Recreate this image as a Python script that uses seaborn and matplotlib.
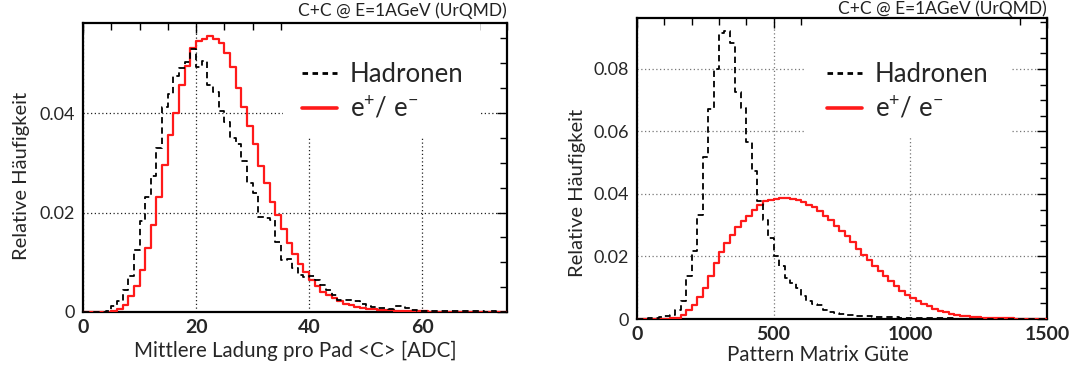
import numpy as np
import pandas as pd
import matplotlib
matplotlib.use("Agg")
import matplotlib.pyplot as plt
import seaborn as sns
from matplotlib.ticker import MultipleLocator, FuncFormatter
from matplotlib.lines import Line2D
from matplotlib.patches import Rectangle

# ---------------- data ----------------
title_text = "C+C @ E=1AGeV (UrQMD)"
legend_labels = ["Hadronen", "e$^{+}$/ e$^{-}$"]

# left panel: mean charge per pad, bins of 1 ADC from 0 to 75
charge_bin_width = 1.0
charge_n_bins = 75
charge_hadrons = [
    0, 0, 0, 0, 0.0002,
    0.0012, 0.0023, 0.0045, 0.0072, 0.0125,
    0.0182, 0.0232, 0.0274, 0.0330, 0.0412,
    0.0439, 0.0474, 0.0491, 0.0503, 0.0529,
    0.0493, 0.0504, 0.0457, 0.0443, 0.0405,
    0.0381, 0.0350, 0.0338, 0.0303, 0.0260,
    0.0240, 0.0191, 0.0188, 0.0184, 0.0140,
    0.0105, 0.0106, 0.0089, 0.0074, 0.0071,
    0.0072, 0.0064, 0.0054, 0.0044, 0.0034,
    0.0025, 0.0025, 0.0024, 0.0023, 0.0016,
    0.0012, 0.0011, 0.0009, 0.0009, 0.0007,
    0.0012, 0.0013, 0.0008, 0.0004, 0.0003,
    0.0003, 0.0003, 0.0003, 0.0002, 0.0002,
    0.0003, 0.0002, 0.0002, 0.0002, 0.0002,
    0.0002, 0.0001, 0.0002, 0.0001, 0.0001,
]
charge_electrons = [
    0, 0, 0, 0, 0.0001,
    0.0002, 0.0006, 0.0015, 0.0032, 0.0053,
    0.0084, 0.0128, 0.0175, 0.0232, 0.0296,
    0.0356, 0.0400, 0.0457, 0.0495, 0.0531,
    0.0545, 0.0549, 0.0555, 0.0549, 0.0541,
    0.0520, 0.0492, 0.0450, 0.0412, 0.0373,
    0.0338, 0.0294, 0.0259, 0.0222, 0.0195,
    0.0166, 0.0138, 0.0117, 0.0097, 0.0080,
    0.0064, 0.0052, 0.0041, 0.0034, 0.0028,
    0.0022, 0.0017, 0.0014, 0.0011, 0.0009,
    0.0007, 0.0006, 0.0005, 0.0004, 0.0004,
    0.0003, 0.0003, 0.0002, 0.0002, 0.0002,
    0.0002, 0.0001, 0.0001, 0.0001, 0.0001,
    0.0001, 0.0001, 0.0001, 0.0001, 0.0001,
    0.0001, 0.0001, 0.0001, 0.0001, 0.0001,
]

# right panel: pattern matrix quality, bins of 20 from 0 to 1500
pm_bin_width = 20.0
pm_n_bins = 75
pm_hadrons = [
    0, 0, 0.0002, 0.0003, 0.0005,
    0.0008, 0.0013, 0.0029, 0.0058, 0.0137,
    0.0216, 0.0334, 0.0517, 0.0672, 0.0800,
    0.0914, 0.0920, 0.0882, 0.0726, 0.0674,
    0.0566, 0.0472, 0.0378, 0.0318, 0.0259,
    0.0200, 0.0168, 0.0130, 0.0115, 0.0099,
    0.0074, 0.0058, 0.0048, 0.0045, 0.0029,
    0.0023, 0.0019, 0.0017, 0.0014, 0.0012,
    0.0011, 0.0009, 0.0008, 0.0007, 0.0007,
    0.0006, 0.0005, 0.0005, 0.0004, 0.0004,
    0.0003, 0.0003, 0.0003, 0.0002, 0.0002,
    0.0002, 0.0002, 0.0002, 0.0001, 0.0001,
    0.0001, 0.0001, 0.0001, 0.0001, 0.0001,
    0.0001, 0.0001, 0.0001, 0.0001, 0.0001,
    0.0001, 0.0001, 0.0001, 0.0001, 0.0001,
]
pm_electrons = [
    0, 0, 0, 0, 0,
    0.0001, 0.0002, 0.0004, 0.0013, 0.0028,
    0.0044, 0.0069, 0.0098, 0.0138, 0.0179,
    0.0214, 0.0243, 0.0270, 0.0294, 0.0312,
    0.0330, 0.0349, 0.0365, 0.0376, 0.0381,
    0.0385, 0.0386, 0.0386, 0.0385, 0.0381,
    0.0373, 0.0365, 0.0358, 0.0346, 0.0330,
    0.0318, 0.0298, 0.0280, 0.0264, 0.0245,
    0.0225, 0.0206, 0.0188, 0.0170, 0.0152,
    0.0136, 0.0120, 0.0104, 0.0091, 0.0078,
    0.0067, 0.0056, 0.0048, 0.0040, 0.0033,
    0.0027, 0.0021, 0.0017, 0.0014, 0.0011,
    0.0009, 0.0006, 0.0005, 0.0004, 0.0003,
    0.0002, 0.0002, 0.0002, 0.0002, 0.0001,
    0.0001, 0.0001, 0.0001, 0.0001, 0.0001,
]

left_xlabel = "Mittlere Ladung pro Pad <C> [ADC]"
right_xlabel = "Pattern Matrix Güte"
ylabel = "Relative Häufigkeit"

# ---------------- style ----------------
sns.set_style("white")
plt.rcParams["font.family"] = ["Lato", "DejaVu Sans"]
plt.rcParams["mathtext.fontset"] = "custom"
plt.rcParams["mathtext.rm"] = "Lato"
plt.rcParams["mathtext.it"] = "Lato"
plt.rcParams["mathtext.bf"] = "Lato:bold"

RED = "#ff1a1a"
BLACK = "black"

fig = plt.figure(figsize=(10.69, 3.69), dpi=100)
ax1 = fig.add_axes([83 / 1069, 1 - 312 / 369, 424 / 1069, 289 / 369])
ax2 = fig.add_axes([637 / 1069, 1 - 319 / 369, 410 / 1069, 301 / 369])


def draw_panel(ax, width, n, had, ele, xmax, ymax, xmaj, xmin, grid_color,
               xlabel, xlabel_x, xlabel_y, ylabel_x, ylabel_y,
               leg_anchor, box, title_y):
    centers = (np.arange(n) + 0.5) * width
    df_e = pd.DataFrame({"x": centers, "w": ele})
    df_h = pd.DataFrame({"x": centers, "w": had})
    sns.histplot(data=df_e, x="x", weights="w", bins=n,
                 binrange=(0, n * width),
                 element="step", fill=False, color=RED, linewidth=1.6,
                 ax=ax, zorder=4)
    sns.histplot(data=df_h, x="x", weights="w", bins=n,
                 binrange=(0, n * width),
                 element="step", fill=False, color=BLACK, linewidth=1.3,
                 linestyle=(0, (3.5, 2.2)), ax=ax, zorder=5)
    ax.set_xlim(0, xmax)
    ax.set_ylim(0, ymax)
    ax.xaxis.set_major_locator(MultipleLocator(xmaj))
    ax.xaxis.set_minor_locator(MultipleLocator(xmin))
    ax.yaxis.set_major_locator(MultipleLocator(0.02))
    ax.yaxis.set_minor_locator(MultipleLocator(0.005))
    ax.yaxis.set_major_formatter(FuncFormatter(
        lambda v, p: "0" if abs(v) < 1e-12 else f"{v:.2f}"))
    ax.xaxis.set_major_formatter(FuncFormatter(lambda v, p: f"{v:.0f}"))
    ax.tick_params(which="both", direction="in", top=True, right=True,
                   color="black")
    ax.tick_params(which="major", length=7, width=1.0)
    ax.tick_params(which="minor", length=5, width=1.0)
    ax.tick_params(axis="x", labelsize=14, pad=5)
    ax.tick_params(axis="y", labelsize=13, pad=6)
    for lab in ax.get_xticklabels():
        lab.set_fontweight("bold")
    for sp in ax.spines.values():
        sp.set_linewidth(1.6)
        sp.set_color("black")
    ax.grid(True, which="major", linestyle=(0, (1, 2)), color=grid_color,
            linewidth=0.9)
    ax.set_axisbelow(True)
    ax.set_xlabel(xlabel, fontsize=14.8)
    ax.xaxis.set_label_coords(xlabel_x, xlabel_y)
    ax.xaxis.label.set_va("top")
    ax.set_ylabel(ylabel, fontsize=14.5)
    ax.yaxis.set_label_coords(ylabel_x, ylabel_y)
    ax.text(1.0, title_y, title_text, transform=ax.transAxes, ha="right",
            va="top", fontsize=12.5, color="#222222")
    # white legend background
    ax.add_patch(Rectangle((box[0], box[1]), box[2] - box[0], box[3] - box[1],
                           transform=ax.transAxes, facecolor="white",
                           edgecolor="none", zorder=2))
    handles = [Line2D([], [], color=BLACK, linewidth=2.0,
                      linestyle=(0, (2, 1.6))),
               Line2D([], [], color=RED, linewidth=2.6)]
    leg = ax.legend(handles, legend_labels, loc="upper left",
                    bbox_to_anchor=leg_anchor, frameon=False, fontsize=18.5,
                    handlelength=1.35, handletextpad=0.5, borderpad=0,
                    borderaxespad=0, labelspacing=0.35)
    leg.set_zorder(6)


draw_panel(ax1, charge_bin_width, charge_n_bins, charge_hadrons,
           charge_electrons, 75, 0.0581, 20, 5, "#222222",
           left_xlabel, 0.5, -0.10, -0.125, 0.47,
           ((302 - 83) / 424, (312 - 62) / 289),
           (0.472, 0.606, 0.936, 1.0), (312 - 2) / 289)
draw_panel(ax2, pm_bin_width, pm_n_bins, pm_hadrons, pm_electrons,
           1500, 0.0963, 500, 100, "#777777",
           right_xlabel, 0.441, -0.085, -0.125, 0.42,
           ((827 - 637) / 410, (319 - 62) / 301),
           (0.412, 0.601, 0.910, 1.0), (319 - 0.5) / 301)

fig.savefig("out.png", dpi=100)
